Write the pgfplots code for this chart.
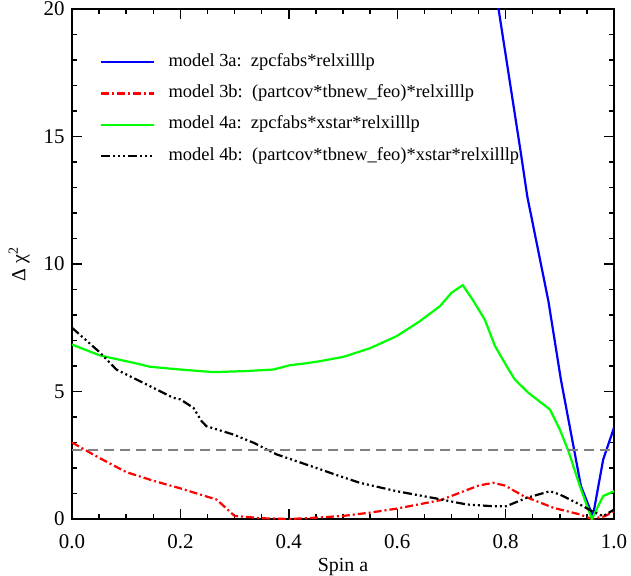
\documentclass[border=0pt]{standalone}
\usepackage{fontspec}
\setmainfont{Liberation Serif}
\usepackage{pgfplots}
\pgfplotsset{compat=1.18}
\begin{document}
\begin{tikzpicture}
\begin{axis}[
    scale only axis,
    width=542bp, height=510bp,
    xmin=0, xmax=1, ymin=0, ymax=20,
    xtick={0,0.2,0.4,0.6,0.8,1},
    ytick={0,5,10,15,20},
    minor x tick num=3,
    minor y tick num=4,
    tick align=inside,
    major tick length=10bp,
    minor tick length=5bp,
    axis line style={line width=1.6bp},
    every tick/.style={black, line width=1.4bp},
    /pgf/number format/assume math mode=true,
    xticklabel style={yshift=-12bp, /pgf/number format/.cd, fixed, fixed zerofill, precision=1},
    yticklabel style={xshift=-4bp},
    ticklabel style={font=\fontsize{21}{21}\selectfont},
    label style={font=\fontsize{20}{20}\selectfont},
    xlabel={Spin a},
    ylabel={Δ χ\textsuperscript{2}},
    xlabel shift=3bp,
    ylabel shift=7bp,
    legend style={at={(rel axis cs:0.052,0.912)}, anchor=north west,
        draw=none, fill=none, inner sep=0pt, row sep=15.4bp,
        font=\fontsize{18.5}{18.5}\selectfont,
        nodes={inner sep=0pt, text height=12bp, text depth=4bp}},
    legend cell align=left,
    legend image code/.code={\draw[#1] (0bp,0bp) -- (53bp,0bp); \path (66bp,0bp);},
]

\addplot[blue, line width=2.2bp] coordinates {
    (0.76,23.7) (0.787,20) (0.828,14.37) (0.840,12.65) (0.879,8.54)
    (0.902,5.47) (0.939,1.29) (0.961,0.1) (0.980,2.33) (1.0,3.58)
};
\addlegendentry{model 3a:\ \ zpcfabs*relxilllp}

\addplot[red, line width=2.2bp, dash pattern=on 8bp off 3bp on 2bp off 3bp] coordinates {
    (0,3.0) (0.05,2.4) (0.1,1.84) (0.15,1.5) (0.2,1.2) (0.267,0.76)
    (0.30,0.12) (0.35,0.03) (0.4,0.0) (0.45,0.05) (0.5,0.12) (0.55,0.25)
    (0.6,0.41) (0.68,0.74) (0.75,1.31) (0.777,1.42) (0.799,1.31)
    (0.833,0.9) (0.888,0.44) (0.937,0.18) (0.959,0.0) (0.983,0.11) (1.0,0.3)
};
\addlegendentry{model 3b:\ \ (partcov*tbnew\_feo)*relxilllp}

\addplot[green, line width=2.2bp] coordinates {
    (0,6.84) (0.052,6.41) (0.119,6.10) (0.144,5.97) (0.2,5.86) (0.261,5.76)
    (0.32,5.8) (0.371,5.86) (0.402,6.03) (0.433,6.11) (0.458,6.19)
    (0.501,6.36) (0.55,6.7) (0.599,7.17) (0.642,7.76) (0.679,8.35)
    (0.70,8.87) (0.721,9.17) (0.741,8.54) (0.762,7.80) (0.780,6.80)
    (0.802,5.99) (0.817,5.47) (0.842,4.95) (0.882,4.29) (0.90,3.51)
    (0.916,2.66) (0.937,1.29) (0.959,0.0) (0.98,0.9) (1.0,1.09)
};
\addlegendentry{model 4a:\ \ zpcfabs*xstar*relxilllp}

\addplot[black, line width=2.2bp,
    dash pattern=on 9bp off 3bp on 2bp off 3bp on 2bp off 3bp on 2bp off 3bp] coordinates {
    (0,7.5) (0.052,6.52) (0.082,5.86) (0.138,5.27) (0.187,4.75) (0.2,4.69)
    (0.224,4.36) (0.239,3.84) (0.248,3.64) (0.298,3.31) (0.335,2.99)
    (0.378,2.53) (0.451,2.0) (0.494,1.68) (0.531,1.42) (0.599,1.09)
    (0.673,0.80) (0.728,0.57) (0.777,0.50) (0.801,0.5) (0.839,0.83)
    (0.882,1.09) (0.90,0.96) (0.937,0.57) (0.959,0.31) (0.98,0.11) (1.0,0.37)
};
\addlegendentry{model 4b:\ \ (partcov*tbnew\_feo)*xstar*relxilllp}

\addplot[gray, line width=1.8bp, dash pattern=on 10bp off 6bp, forget plot] coordinates {
    (0,2.706) (1,2.706)
};
\end{axis}
\pgfresetboundingbox
\path ([xshift=-72bp,yshift=-56.5bp]current axis.south west)
    rectangle ([xshift=17bp,yshift=9bp]current axis.north east);
\end{tikzpicture}
\end{document}
